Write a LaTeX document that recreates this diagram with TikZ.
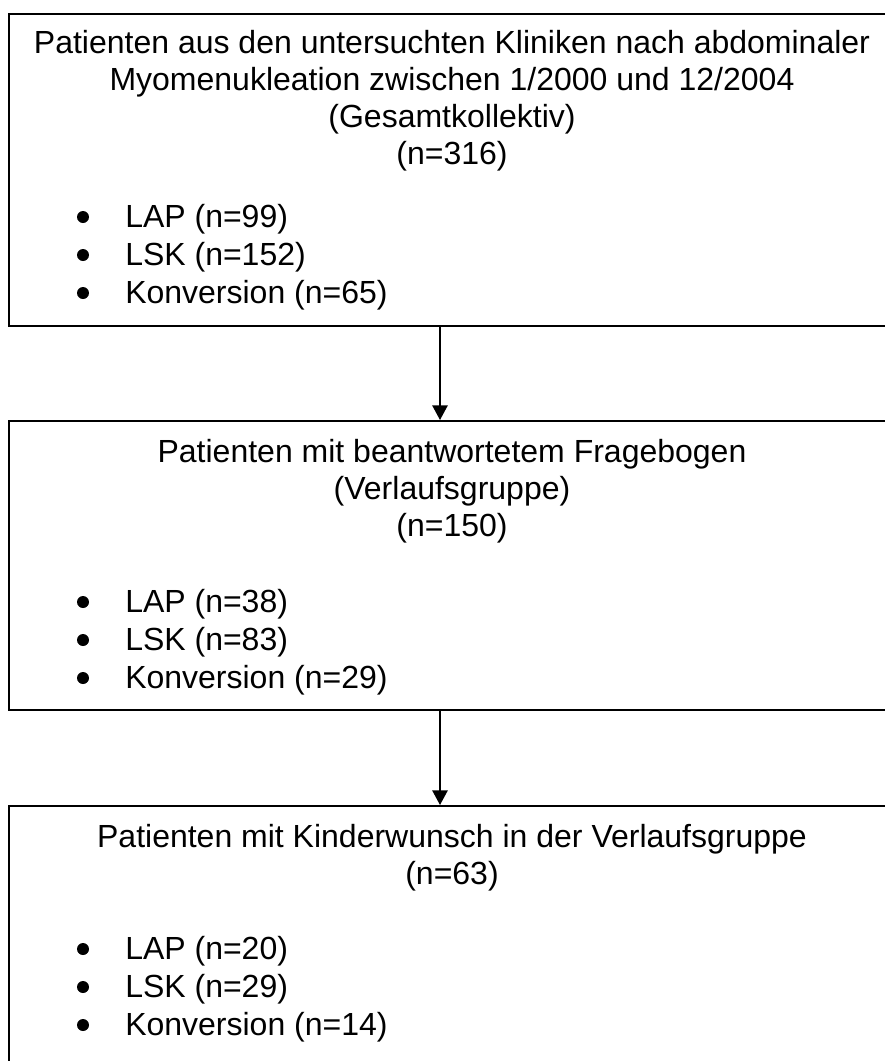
\documentclass[tikz,border=0pt]{standalone}
\usepackage{fontspec}
\setmainfont{Liberation Sans}
\usetikzlibrary{arrows.meta}
\begin{document}
\begin{tikzpicture}[x=0.75pt,y=-0.75pt,
  box/.style={draw=black, line width=1.3pt, rectangle, anchor=north west, inner sep=0pt, minimum width=666pt},
  title/.style={anchor=base, inner sep=0pt, font=\fontsize{24}{28}\selectfont},
  item/.style={anchor=base west, inner sep=0pt, font=\fontsize{24}{28}\selectfont},
  dot/.style={circle, fill=black, inner sep=0pt, minimum size=9pt},
  arr/.style={line width=1.3pt, -{Triangle[width=11.5pt,length=11pt]}}]
\useasboundingbox (0,0) rectangle (885,1061);
\clip (0,0) rectangle (885,1061);
% boxes
\node[box, minimum height=234pt] (b1) at (8,13) {};
\node[box, minimum height=216.75pt] (b2) at (8,420) {};
\node[box, minimum height=202.5pt] (b3) at (8,805) {};
% box 1 text
\node[title] (t11) at (452,53) {Patienten aus den untersuchten Kliniken nach abdominaler};
\node[title] (t12) at (452,90) {Myomenukleation zwischen 1/2000 und 12/2004};
\node[title] (t13) at (452,127) {(Gesamtkollektiv)};
\node[title] (t14) at (452,164) {(n=316)};
\node[dot] (d11) at (83,217) {};
\node[item] (i11) at (125,227) {LAP (n=99)};
\node[dot] (d12) at (83,255) {};
\node[item] (i12) at (125,265) {LSK (n=152)};
\node[dot] (d13) at (83,293) {};
\node[item] (i13) at (125,303) {Konversion (n=65)};
% box 2 text
\node[title] (t21) at (452,462) {Patienten mit beantwortetem Fragebogen};
\node[title] (t22) at (452,499) {(Verlaufsgruppe)};
\node[title] (t23) at (452,536) {(n=150)};
\node[dot] (d21) at (83,602) {};
\node[item] (i21) at (125,612) {LAP (n=38)};
\node[dot] (d22) at (83,640) {};
\node[item] (i22) at (125,650) {LSK (n=83)};
\node[dot] (d23) at (83,678) {};
\node[item] (i23) at (125,688) {Konversion (n=29)};
% box 3 text
\node[title] (t31) at (452,847) {Patienten mit Kinderwunsch in der Verlaufsgruppe};
\node[title] (t32) at (452,884) {(n=63)};
\node[dot] (d31) at (83,949) {};
\node[item] (i31) at (125,959) {LAP (n=20)};
\node[dot] (d32) at (83,987) {};
\node[item] (i32) at (125,997) {LSK (n=29)};
\node[dot] (d33) at (83,1025) {};
\node[item] (i33) at (125,1035) {Konversion (n=14)};
% arrows
\coordinate (ax) at (440,0);
\draw[arr] (b1.south -| ax) -- (b2.north -| ax);
\draw[arr] (b2.south -| ax) -- (b3.north -| ax);
\end{tikzpicture}
\end{document}
